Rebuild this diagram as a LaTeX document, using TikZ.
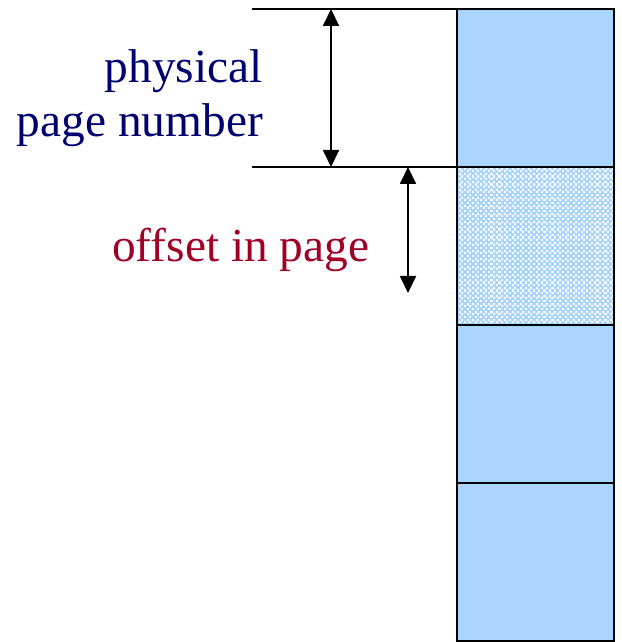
\documentclass[tikz,border=0pt]{standalone}
\usepackage{fontspec}
\setmainfont{Liberation Serif}
\usetikzlibrary{arrows.meta}
\definecolor{cellblue}{RGB}{169,213,255}
\definecolor{labelnavy}{RGB}{0,0,112}
\definecolor{labelred}{RGB}{160,0,40}
\tikzset{
  x=1pt, y=1pt,
  cell/.style={draw=black, line width=2pt, fill=cellblue, rectangle,
    minimum width=157pt, minimum height=158pt, inner sep=0pt, outer sep=0pt},
  dot/.style={fill=white},
  guide/.style={line width=2pt},
  span/.style={line width=1.8pt, {Triangle[width=16pt,length=17pt]}-{Triangle[width=16pt,length=17pt]}},
  lbl/.style={font=\fontsize{47.4}{54}\selectfont, inner sep=0pt}
}
\begin{document}
\begin{tikzpicture}
\useasboundingbox (0,0) rectangle (621,642);
% memory column: four page frames, the second one highlighted
\node[cell] (f1) at (535.5,554) {};
\node[cell] (f2) at (535.5,396) {};
\node[cell] (f3) at (535.5,238) {};
\node[cell] (f4) at (535.5,80) {};
% dotted texture of the highlighted frame
\begin{scope}
  \clip (f2.south west) rectangle (f2.north east);
  \foreach \i in {0,...,30} {
    \foreach \j in {0,...,60} {
      \pgfmathsetmacro{\dx}{456+\i*5.3+mod(\j,2)*2.65}
      \pgfmathsetmacro{\dy}{316+\j*2.65}
      \fill[dot] (\dx,\dy) rectangle ++(2.1,2.1);
    }
  }
\end{scope}
\draw[line width=2pt] (f2.south west) rectangle (f2.north east);
% guide lines marking the start of the frame
\coordinate (g1) at (252,633);
\coordinate (g2) at (252,475);
\draw[guide] (g1) -- (f1.north west);
\draw[guide] (g2) -- (f2.north west);
% dimension arrows
\coordinate (a1) at (331,633);
\coordinate (a2) at (331,475);
\coordinate (b1) at (408,475);
\coordinate (b2) at (408,349);
\draw[span] (a1) -- (a2);
\draw[span] (b1) -- (b2);
% labels
\node[lbl, text=labelnavy, anchor=base east] (phys) at (263,559) {physical};
\node[lbl, text=labelnavy, anchor=base east] (pnum) at (263,505) {page number};
\node[lbl, text=labelred, anchor=base west] (off) at (112,380) {offset in page};
\end{tikzpicture}
\end{document}
